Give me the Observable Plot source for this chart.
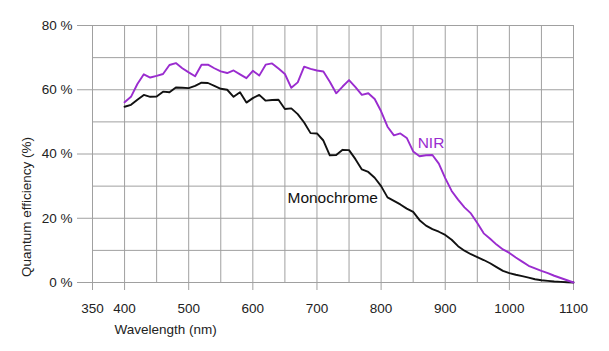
<!DOCTYPE html>
<html>
<head>
<meta charset="utf-8">
<script src="https://cdn.jsdelivr.net/npm/d3@7"></script>
<script src="https://cdn.jsdelivr.net/npm/@observablehq/plot@0.6"></script>
<style>
  html, body { margin: 0; padding: 0; background: #fff; }
</style>
</head>
<body>
<div id="chart"></div>
<script>
const wavelength = [400,410,420,430,440,450,460,470,480,490,500,510,520,530,540,550,560,570,580,590,600,610,620,630,640,650,660,670,680,690,700,710,720,730,740,750,760,770,780,790,800,810,820,830,840,850,860,870,880,890,900,910,920,930,940,950,960,970,980,990,1000,1010,1020,1030,1040,1050,1060,1070,1080,1090,1100];

const nir = [56.1,57.8,61.8,64.8,63.8,64.3,64.9,67.7,68.3,66.7,65.4,64.2,67.8,67.8,66.7,65.7,65.2,66.0,64.8,63.6,65.9,64.4,67.8,68.2,66.6,64.9,60.6,62.3,67.2,66.5,66.0,65.7,62.5,58.9,61.0,63.0,60.8,58.4,58.9,57.1,53.3,48.5,45.8,46.4,45.0,40.8,39.3,39.6,39.7,37.0,32.5,28.5,25.8,23.4,21.5,18.5,15.3,13.6,11.8,10.3,9.2,7.8,6.5,5.2,4.4,3.6,2.9,2.1,1.4,0.7,0.0];

const mono = [54.7,55.3,56.9,58.4,57.8,57.9,59.4,59.2,60.7,60.6,60.5,61.2,62.2,62.1,61.2,60.3,60.0,57.8,59.2,56.0,57.4,58.4,56.6,56.8,56.9,54.0,54.2,52.4,49.8,46.5,46.4,44.2,39.6,39.7,41.3,41.2,38.4,35.2,34.4,32.6,30.0,26.5,25.4,24.3,23.0,22.0,19.4,17.7,16.6,15.8,14.8,13.3,11.3,9.9,8.8,7.9,7.0,6.0,4.8,3.6,2.9,2.4,2.0,1.5,1.0,0.7,0.5,0.3,0.2,0.1,0.0];

const xGrid = [350,400,450,500,550,600,650,700,750,800,850,900,950,1000,1050,1100];
const yGrid = [0,10,20,30,40,50,60,70,80];
const xTicks = [350,400,500,600,700,800,900,1000,1100];
const yTicks = [0,20,40,60,80];

const seriesLabels = [
  {name: "NIR", x: 857, y: 43.5, color: "#9a2ccf"},
  {name: "Monochrome", x: 654, y: 26.4, color: "#111111"}
];

const rows = wavelength.map((w, i) => ({wl: w, nir: nir[i], mono: mono[i]}));
const grid = "#a0a0a0";

const chart = Plot.plot({
  width: 609,
  height: 351,
  marginLeft: 92,
  marginRight: 36,
  marginTop: 25,
  marginBottom: 69,
  style: {fontFamily: "'Liberation Sans', Arial, sans-serif", fontSize: "13px", background: "#fff", color: "#222"},
  x: {domain: [350, 1100]},
  y: {domain: [0, 80]},
  marks: [
    Plot.ruleX(xGrid, {y1: 0, y2: 80, stroke: grid, strokeWidth: 1}),
    Plot.ruleY(yGrid, {x1: 350, x2: 1100, stroke: grid, strokeWidth: 1}),
    Plot.axisX({ticks: xTicks, tickSize: 8, tickPadding: 13, stroke: grid, fill: "#222", label: null, fontSize: 13.5, tickFormat: d => String(d)}),
    Plot.axisY({ticks: yTicks, tickSize: 15, tickPadding: 5, stroke: grid, fill: "#222", label: null, fontSize: 13.5, tickFormat: d => d + " %"}),
    Plot.line(rows, {x: "wl", y: "mono", stroke: "#111", strokeWidth: 1.9}),
    Plot.line(rows, {x: "wl", y: "nir", stroke: "#9a2ccf", strokeWidth: 1.9}),
    Plot.text(seriesLabels, {x: "x", y: "y", text: "name", fill: "color", textAnchor: "start", fontSize: 15.5}),
    Plot.text(["Wavelength (nm)"], {frameAnchor: "bottom-left", textAnchor: "start", lineAnchor: "middle", dx: 22, dy: 47, fontSize: 13.5, fill: "#222"}),
    Plot.text(["Quantum efficiency (%)"], {frameAnchor: "left", textAnchor: "middle", lineAnchor: "middle", rotate: -90, dx: -66, dy: 53, fontSize: 13.5, fill: "#222"})
  ]
});
document.getElementById("chart").appendChild(chart);
</script>
</body>
</html>
